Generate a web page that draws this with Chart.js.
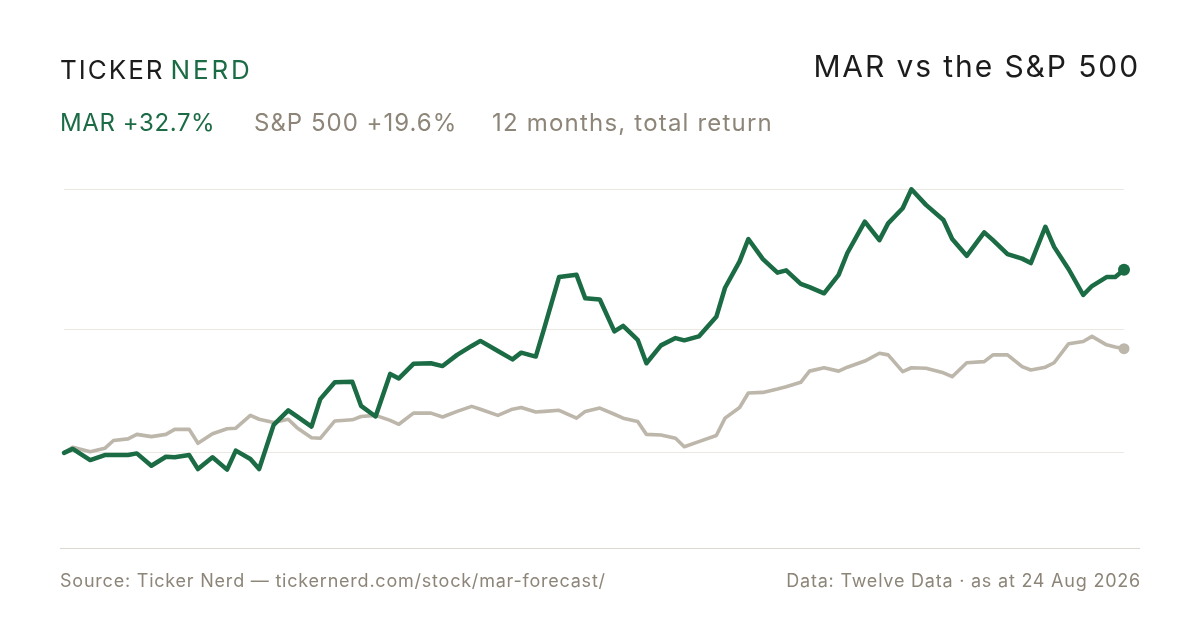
<!DOCTYPE html>
<html>
<head>
<meta charset="utf-8">
<script src="https://cdn.jsdelivr.net/npm/chart.js@4/dist/chart.umd.min.js"></script>
<style>
  html, body { margin: 0; padding: 0; background: #ffffff; }
  #wrap { position: relative; width: 1200px; height: 630px; overflow: hidden; background: #fff; font-family: Inter, "Noto Sans", sans-serif; }
  #c { position: absolute; left: 0; top: 0; }
  .t { position: absolute; white-space: nowrap; line-height: 1; }
  #logo { left: 60px; top: 56.6px; font-size: 26px; letter-spacing: 2px; color: #1c1c1c; }
  #logo .nerd { color: #1b6b45; margin-left: 6px; letter-spacing: 2.8px; }
  #title { right: 60px; top: 50.8px; font-size: 30px; letter-spacing: 1.9px; color: #1c1c1c; }
  .sub { top: 111px; font-size: 24px; }
  #s1 { left: 60px; color: #1b6b45; letter-spacing: 0.6px; }
  #s2 { left: 254px; color: #8c8578; letter-spacing: 1px; }
  #s3 { left: 492px; color: #8c8578; letter-spacing: 1.2px; }
  #sep { position: absolute; left: 60px; width: 1080px; top: 548px; height: 1px; background: #dcd8cf; }
  .foot { top: 571.5px; font-size: 18px; color: #8c8578; letter-spacing: 0.78px; }
  #f1 { left: 60px; }
  #f2 { right: 59px; }
</style>
</head>
<body>
<div id="wrap">
  <canvas id="c" width="1200" height="630"></canvas>
  <div class="t" id="logo">TICKER<span class="nerd">NERD</span></div>
  <div class="t" id="title">MAR vs the S&amp;P 500</div>
  <div class="t sub" id="s1">MAR +32.7%</div>
  <div class="t sub" id="s2">S&amp;P 500 +19.6%</div>
  <div class="t sub" id="s3">12 months, total return</div>
  <div id="sep"></div>
  <div class="t foot" id="f1">Source: Ticker Nerd — tickernerd.com/stock/mar-forecast/</div>
  <div class="t foot" id="f2">Data: Twelve Data · as at 24 Aug 2026</div>
</div>
<script>
// Sample dates (every third trading day, plus the last day)
const dates = [
  "2025-08-25","2025-08-28","2025-09-03","2025-09-08","2025-09-11","2025-09-16","2025-09-19","2025-09-24","2025-09-29","2025-10-02",
  "2025-10-07","2025-10-10","2025-10-15","2025-10-20","2025-10-23","2025-10-28","2025-10-31","2025-11-05","2025-11-10","2025-11-13",
  "2025-11-18","2025-11-21","2025-11-26","2025-12-02","2025-12-05","2025-12-10","2025-12-15","2025-12-18","2025-12-23","2025-12-29",
  "2026-01-02","2026-01-07","2026-01-12","2026-01-15","2026-01-21","2026-01-26","2026-01-29","2026-02-03","2026-02-06","2026-02-11",
  "2026-02-17","2026-02-20","2026-02-25","2026-03-02","2026-03-05","2026-03-10","2026-03-13","2026-03-18","2026-03-23","2026-03-26",
  "2026-03-31","2026-04-06","2026-04-09","2026-04-14","2026-04-17","2026-04-22","2026-04-27","2026-04-30","2026-05-05","2026-05-08",
  "2026-05-13","2026-05-18","2026-05-21","2026-05-27","2026-06-01","2026-06-04","2026-06-09","2026-06-12","2026-06-17","2026-06-23",
  "2026-06-26","2026-07-01","2026-07-07","2026-07-10","2026-07-15","2026-07-20","2026-07-23","2026-07-28","2026-07-31","2026-08-05",
  "2026-08-10","2026-08-13","2026-08-18","2026-08-21","2026-08-24"
];

// Cumulative return, %
const marReturn = [
  0.0, 0.7, -1.3, -0.4, -0.4, -0.4, -0.1, -2.3, -0.7, -0.8,
  -0.4, -2.9, -0.8, -3.0, 0.4, -1.1, -2.9, 5.0, 7.6, 6.5,
  4.7, 9.6, 12.6, 12.7, 8.4, 6.5, 14.1, 13.3, 15.9, 16.0,
  15.5, 17.5, 19.1, 20.0, 18.2, 16.7, 17.9, 17.2, 22.4, 31.4,
  31.8, 27.6, 27.4, 21.7, 22.7, 20.2, 16.0, 19.2, 20.5, 20.1,
  20.8, 24.3, 29.5, 34.2, 38.2, 34.6, 32.2, 32.6, 30.2, 29.6,
  28.5, 31.8, 35.7, 41.3, 38.0, 41.0, 43.7, 47.1, 44.3, 41.6,
  38.2, 35.2, 39.4, 38.0, 35.5, 34.7, 33.9, 40.4, 36.8, 32.8,
  28.2, 29.8, 31.4, 31.4, 32.7
];

const spxReturn = [
  0.0, 1.0, 0.2, 0.8, 2.2, 2.5, 3.3, 2.9, 3.3, 4.2,
  4.2, 1.7, 3.4, 4.3, 4.4, 6.7, 6.0, 5.4, 6.0, 4.5,
  2.7, 2.6, 5.7, 5.9, 6.5, 6.7, 5.8, 5.1, 7.1, 7.1,
  6.4, 7.4, 8.3, 7.8, 6.7, 7.8, 8.1, 7.3, 7.4, 7.6,
  6.2, 7.4, 8.0, 6.9, 6.2, 5.6, 3.3, 3.2, 2.6, 1.1,
  2.0, 3.1, 6.2, 8.1, 10.7, 10.8, 11.4, 11.8, 12.6, 14.6,
  15.2, 14.6, 15.3, 16.4, 17.8, 17.5, 14.5, 15.2, 15.1, 14.3,
  13.6, 16.1, 16.3, 17.5, 17.5, 15.4, 14.8, 15.3, 16.1, 19.5,
  19.9, 20.8, 19.3, 18.9, 18.6
];

// Horizontal reference lines, %
const gridValues = [0, 22, 47.14];
const yMin = -12;
const yMax = 47.14;

const DAY = 86400000;
const t0 = Date.parse(dates[0]);
const dayIndex = dates.map(d => Math.round((Date.parse(d) - t0) / DAY));
const toPoints = arr => arr.map((v, i) => ({ x: dayIndex[i], y: v }));
const last = dates.length - 1;

const green = '#1b6b45';
const grey = '#bdb6aa';

new Chart(document.getElementById('c'), {
  type: 'line',
  data: {
    datasets: [
      {
        label: 'MAR',
        data: toPoints(marReturn),
        borderColor: green,
        backgroundColor: green,
        borderWidth: 4.5,
        borderJoinStyle: 'round',
        borderCapStyle: 'round',
        tension: 0,
        clip: false,
        pointRadius: ctx => ctx.dataIndex === last ? 6 : 0,
        pointBorderWidth: 0,
        pointBackgroundColor: green
      },
      {
        label: 'S&P 500',
        data: toPoints(spxReturn),
        borderColor: grey,
        backgroundColor: grey,
        borderWidth: 3.6,
        borderJoinStyle: 'round',
        borderCapStyle: 'round',
        tension: 0,
        clip: false,
        pointRadius: ctx => ctx.dataIndex === last ? 5.5 : 0,
        pointBorderWidth: 0,
        pointBackgroundColor: grey
      }
    ]
  },
  options: {
    responsive: false,
    animation: false,
    events: [],
    layout: { padding: { left: 64, right: 76, top: 189, bottom: 110 } },
    plugins: { legend: { display: false }, tooltip: { enabled: false } },
    scales: {
      x: {
        type: 'linear',
        display: false,
        min: 0,
        max: dayIndex[last]
      },
      y: {
        type: 'linear',
        min: yMin,
        max: yMax,
        afterBuildTicks: scale => { scale.ticks = gridValues.map(v => ({ value: v })); },
        ticks: { display: false },
        border: { display: false },
        grid: { color: '#ebe8e2', lineWidth: 1, drawTicks: false }
      }
    }
  }
});
</script>
</body>
</html>
